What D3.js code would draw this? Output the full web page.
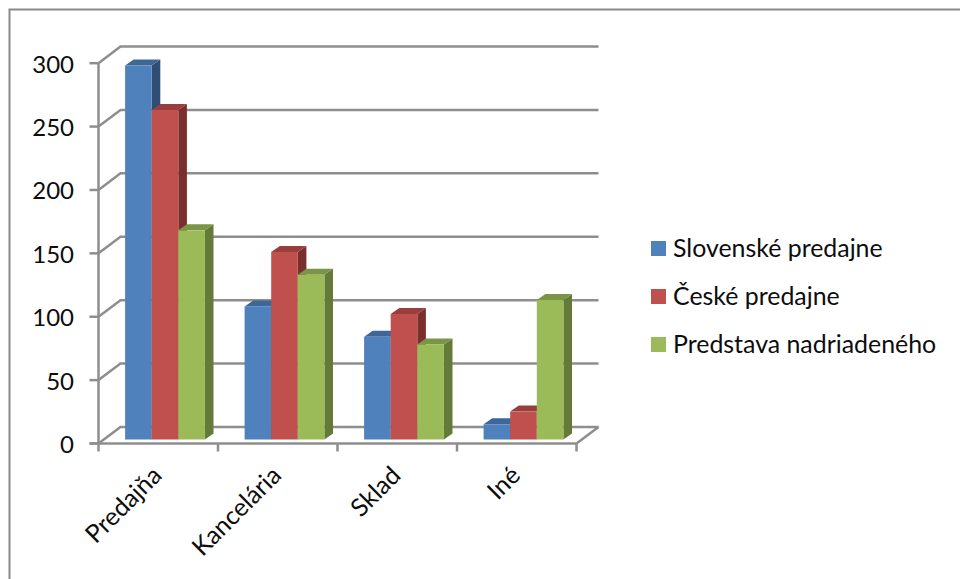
<!DOCTYPE html>
<html>
<head>
<meta charset="utf-8">
<style>
html, body { margin: 0; padding: 0; background: #fff; }
svg { display: block; }
text { font-family: Lato, "Open Sans", sans-serif; fill: #0d0d0d; }
</style>
<script src="https://cdn.jsdelivr.net/npm/d3@7"></script>
</head>
<body>
<svg id="chart" width="960" height="579"></svg>
<script>
const categories = ["Predajňa", "Kancelária", "Sklad", "Iné"];
const seriesNames = ["Slovenské predajne", "České predajne", "Predstava nadriadeného"];
const slovenske = [295, 105, 81, 12];
const ceske = [260, 148, 99, 22];
const predstava = [165, 130, 75, 110];
const yTicks = [0, 50, 100, 150, 200, 250, 300];

const seriesValues = [slovenske, ceske, predstava];
const frontColors = ["#4f81bd", "#c0504d", "#9bbb59"];
const topColors = ["#3e6697", "#983f3d", "#7b9547"];
const sideColors = ["#2f4e75", "#7a2f2d", "#647a38"];
const axisColor = "#8e8e8e";

const svg = d3.select("#chart");

// Outer chart frame, open at the right and bottom of the canvas
svg.append("path")
  .attr("d", "M9.5,579V9.5H960")
  .attr("fill", "none").attr("stroke", "#8a8a8a").attr("stroke-width", 2);

// Front plane of the 3D box and the shift to its back wall
const x0 = d3.scaleBand().domain(categories).range([98.5, 576.5]);
const y = d3.scaleLinear().domain([0, 300]).range([443.5, 63.2]);
const wall = { dx: 22, dy: -16.6 };

const grid = svg.append("g").attr("fill", "none").attr("stroke", axisColor).attr("stroke-width", 2.5);

// Back wall gridlines joined to the left side wall
grid.selectAll("path.gridline").data(yTicks).join("path")
  .attr("class", "gridline")
  .attr("d", d => `M${x0.range()[0]},${y(d)}L${x0.range()[0] + wall.dx},${y(d) + wall.dy}H${x0.range()[1] + wall.dx}`);

// Floor edge on the right
grid.append("path")
  .attr("d", `M${x0.range()[1]},${y(0)}L${x0.range()[1] + wall.dx},${y(0) + wall.dy}`);

// Value axis
grid.append("path").attr("d", `M${x0.range()[0]},${y(300)}V${y(0)}`);
grid.selectAll("path.ytick").data(yTicks).join("path")
  .attr("class", "ytick")
  .attr("d", d => `M${x0.range()[0] - 9},${y(d)}H${x0.range()[0]}`);

// Category axis with ticks between groups
grid.append("path").attr("d", `M${x0.range()[0] - 9},${y(0)}H${x0.range()[1]}`);
const slotEdges = categories.map(c => x0(c)).concat(x0.range()[1]);
grid.selectAll("path.xtick").data(slotEdges).join("path")
  .attr("class", "xtick")
  .attr("d", d => `M${d},${y(0)}V${y(0) + 8}`);

// Value labels
svg.append("g").selectAll("text").data(yTicks).join("text")
  .attr("x", 74).attr("y", d => y(d) + 9.5)
  .attr("text-anchor", "end").attr("font-size", 24)
  .text(d => d);

// Bars: front face, top and side, sitting slightly inside the box floor
const x1 = d3.scaleBand().domain(d3.range(seriesNames.length)).range([26.6, 106.4]);
const barBase = 439.5;
const unit = y(0) - y(1);
const barY = v => barBase - v * unit;
const depth = { dx: 8.6, dy: -6 };
const w = x1.bandwidth();

const cells = [];
categories.forEach((c, ci) => {
  seriesNames.forEach((s, si) => {
    cells.push({ x: x0(c) + x1(si), top: barY(seriesValues[si][ci]), si });
  });
});

const bars = svg.append("g").selectAll("g").data(cells).join("g");
bars.append("path").attr("fill", d => sideColors[d.si])
  .attr("d", d => `M${d.x + w},${d.top}l${depth.dx},${depth.dy}V${barBase + depth.dy}l${-depth.dx},${-depth.dy}Z`);
bars.append("path").attr("fill", d => topColors[d.si])
  .attr("d", d => `M${d.x},${d.top}l${depth.dx},${depth.dy}h${w}l${-depth.dx},${-depth.dy}Z`);
bars.append("rect").attr("fill", d => frontColors[d.si])
  .attr("x", d => d.x).attr("y", d => d.top)
  .attr("width", w).attr("height", d => barBase - d.top);

// Rotated category labels ending under each group
svg.append("g").selectAll("text").data(categories).join("text")
  .attr("text-anchor", "end").attr("font-size", 25)
  .attr("transform", d => `translate(${x0(d) + x0.bandwidth() / 2 + 5},${477}) rotate(-45)`)
  .text(d => d);

// Legend
const legend = svg.append("g").selectAll("g").data(seriesNames).join("g")
  .attr("transform", (d, i) => `translate(651,${241 + i * 48})`);
legend.append("rect").attr("width", 15).attr("height", 15).attr("fill", (d, i) => frontColors[i]);
legend.append("text").attr("x", 22).attr("y", 16).attr("font-size", 24.9).text(d => d);
</script>
</body>
</html>
